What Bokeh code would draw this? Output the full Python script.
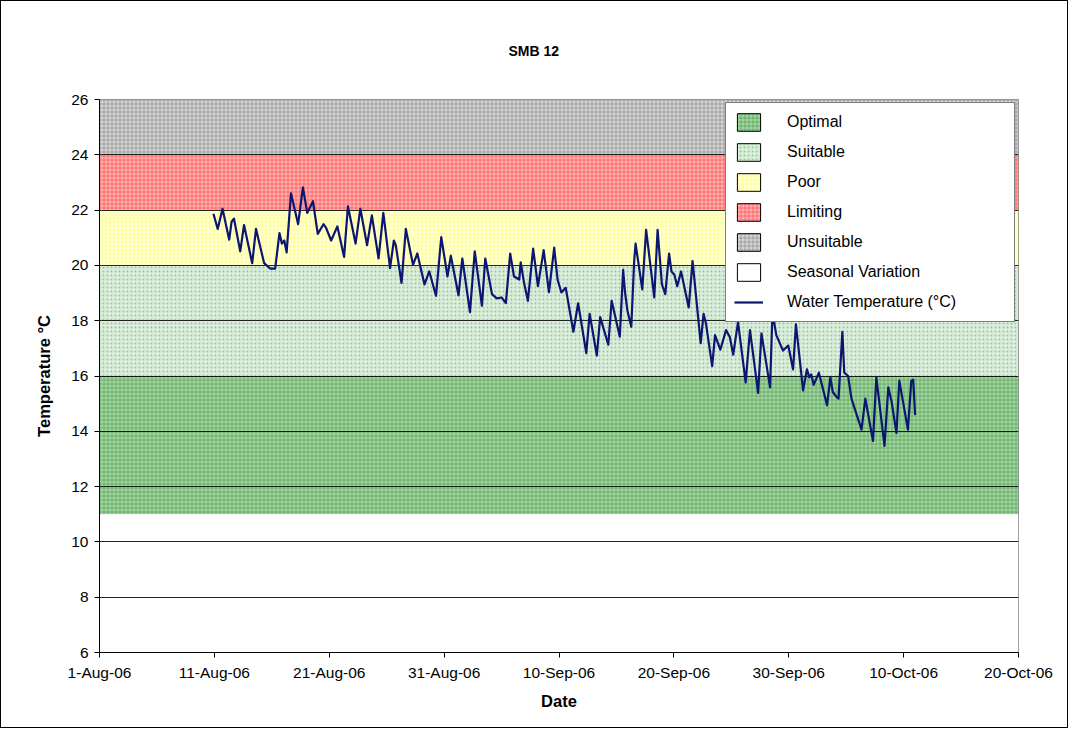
import numpy as np
import pandas as pd
from bokeh.plotting import figure
from bokeh.models import (Range1d, FixedTicker, Legend, LegendItem,
                          ColumnDataSource, Title)
from bokeh.embed import file_html
from bokeh.resources import INLINE

# ---------------- data ----------------
title_text = "SMB 12"
x_label = "Date"
y_label = "Temperature °C"

x_start = "2006-08-01"
x_end = "2006-10-20"
tick_dates = ["2006-08-01", "2006-08-11", "2006-08-21", "2006-08-31",
              "2006-09-10", "2006-09-20", "2006-09-30", "2006-10-10",
              "2006-10-20"]
tick_labels = ["1-Aug-06", "11-Aug-06", "21-Aug-06", "31-Aug-06",
               "10-Sep-06", "20-Sep-06", "30-Sep-06", "10-Oct-06",
               "20-Oct-06"]
y_ticks = [6, 8, 10, 12, 14, 16, 18, 20, 22, 24, 26]

band_names = ["Optimal", "Suitable", "Poor", "Limiting", "Unsuitable",
              "Seasonal Variation"]
band_bottom = [11, 16, 20, 22, 24, 6]
band_top = [16, 20, 22, 24, 26, 11]

series_name = "Water Temperature (°C)"
times = [
    "2006-08-10 22:00", "2006-08-11 07:00", "2006-08-11 17:00", "2006-08-12 07:00",
    "2006-08-12 12:00", "2006-08-12 17:00", "2006-08-13 06:00", "2006-08-13 14:00",
    "2006-08-14 07:00", "2006-08-14 15:00", "2006-08-15 08:00", "2006-08-15 21:00",
    "2006-08-16 07:00", "2006-08-16 16:00", "2006-08-16 21:00", "2006-08-17 02:00",
    "2006-08-17 07:00", "2006-08-17 16:00", "2006-08-18 07:00", "2006-08-18 17:00",
    "2006-08-19 02:00", "2006-08-19 14:00", "2006-08-20 00:00", "2006-08-20 12:00",
    "2006-08-20 17:00", "2006-08-21 04:00", "2006-08-21 17:00", "2006-08-22 07:00",
    "2006-08-22 15:00", "2006-08-23 07:00", "2006-08-23 17:00", "2006-08-24 07:00",
    "2006-08-24 17:00", "2006-08-25 07:00", "2006-08-25 17:00", "2006-08-26 07:00",
    "2006-08-26 15:00", "2006-08-26 19:00", "2006-08-27 07:00", "2006-08-27 16:00",
    "2006-08-28 07:00", "2006-08-28 16:00", "2006-08-29 07:00", "2006-08-29 17:00",
    "2006-08-30 07:00", "2006-08-30 18:00", "2006-08-31 00:00", "2006-08-31 07:00",
    "2006-08-31 14:00", "2006-09-01 06:00", "2006-09-01 14:00", "2006-09-02 06:00",
    "2006-09-02 16:00", "2006-09-03 07:00", "2006-09-03 14:00", "2006-09-04 04:00",
    "2006-09-04 14:00", "2006-09-05 00:00", "2006-09-05 09:00", "2006-09-05 18:00",
    "2006-09-06 02:00", "2006-09-06 13:00", "2006-09-06 16:00", "2006-09-06 23:00",
    "2006-09-07 07:00", "2006-09-07 18:00", "2006-09-08 04:00", "2006-09-08 16:00",
    "2006-09-09 03:00", "2006-09-09 14:00", "2006-09-09 21:00", "2006-09-10 05:00",
    "2006-09-10 14:00", "2006-09-11 06:00", "2006-09-11 16:00", "2006-09-12 09:00",
    "2006-09-12 16:00", "2006-09-13 07:00", "2006-09-13 14:00", "2006-09-14 07:00",
    "2006-09-14 14:00", "2006-09-15 07:00", "2006-09-15 14:00", "2006-09-15 18:00",
    "2006-09-15 23:00", "2006-09-16 07:00", "2006-09-16 13:00", "2006-09-16 16:00",
    "2006-09-17 06:00", "2006-09-17 14:00", "2006-09-18 07:00", "2006-09-18 14:00",
    "2006-09-18 23:00", "2006-09-19 06:00", "2006-09-19 14:00", "2006-09-19 19:00",
    "2006-09-20 01:00", "2006-09-20 07:00", "2006-09-20 15:00", "2006-09-21 07:00",
    "2006-09-21 15:00", "2006-09-22 08:00", "2006-09-22 14:00", "2006-09-22 19:00",
    "2006-09-23 08:00", "2006-09-23 14:00", "2006-09-24 01:00", "2006-09-24 13:00",
    "2006-09-24 21:00", "2006-09-25 04:00", "2006-09-25 14:00", "2006-09-26 06:00",
    "2006-09-26 15:00", "2006-09-27 08:00", "2006-09-27 15:00", "2006-09-28 09:00",
    "2006-09-28 14:00", "2006-09-28 22:00", "2006-09-29 12:00", "2006-09-29 23:00",
    "2006-09-30 09:00", "2006-09-30 15:00", "2006-10-01 06:00", "2006-10-01 14:00",
    "2006-10-01 19:00", "2006-10-01 23:00", "2006-10-02 04:00", "2006-10-02 15:00",
    "2006-10-03 08:00", "2006-10-03 15:00", "2006-10-03 20:00", "2006-10-04 04:00",
    "2006-10-04 08:00", "2006-10-04 16:00", "2006-10-04 20:00", "2006-10-05 04:00",
    "2006-10-05 11:00", "2006-10-06 08:00", "2006-10-06 16:00", "2006-10-07 08:00",
    "2006-10-07 15:00", "2006-10-08 08:00", "2006-10-08 16:00", "2006-10-08 23:00",
    "2006-10-09 09:00", "2006-10-09 15:00", "2006-10-10 09:00", "2006-10-10 16:00",
    "2006-10-10 20:00", "2006-10-11 00:00",
]
temps = [
    21.87, 21.32, 22.05, 20.93,
    21.58, 21.69, 20.51, 21.46,
    20.08, 21.32, 20.08, 19.88,
    19.88, 21.17, 20.79, 20.90,
    20.47, 22.61, 21.49, 22.82,
    21.90, 22.32, 21.14, 21.49,
    21.37, 20.90, 21.41, 20.31,
    22.14, 20.79, 22.05, 20.73,
    21.81, 20.25, 21.90, 19.90,
    20.90, 20.73, 19.37, 21.32,
    20.02, 20.43, 19.31, 19.78,
    18.90, 21.02, 20.37, 19.60,
    20.35, 18.92, 20.25, 18.31,
    20.51, 18.54, 20.25, 18.96,
    18.81, 18.84, 18.64, 20.43,
    19.60, 19.49, 20.11, 19.37,
    18.72, 20.61, 19.25, 20.55,
    19.03, 20.64, 19.49, 19.02,
    19.19, 17.60, 18.63, 16.83,
    18.25, 16.74, 18.13, 17.13,
    18.72, 17.42, 19.84, 19.02,
    18.36, 17.78, 20.13, 20.79,
    19.13, 21.29, 18.84, 21.29,
    19.31, 18.96, 20.43, 19.78,
    19.66, 19.25, 19.78, 18.48,
    20.16, 17.19, 18.25, 17.90,
    16.36, 17.48, 16.95, 17.66,
    17.40, 16.77, 17.95, 15.77,
    17.66, 15.39, 17.54, 15.59,
    18.30, 17.48, 16.92, 17.10,
    16.24, 17.87, 15.48, 16.24,
    15.95, 16.06, 15.68, 16.12,
    14.94, 15.95, 15.42, 15.24,
    15.18, 17.60, 16.12, 16.00,
    15.18, 14.06, 15.18, 13.65,
    15.95, 13.47, 15.59, 15.06,
    13.94, 15.83, 14.06, 15.83,
    15.87, 14.59,
]

# ---------------- styles ----------------
band_fill = ["#a2d4a2", "#d9eed9", "#ffffa0", "#ffadad", "#d4d4d4", "#ffffff"]
band_hatch = ["cross", "dot", "cross", "cross", "cross", "blank"]
band_hatch_color = ["#4a9a4a", "#88c288", "#ffffff", "#ff4444", "#858585", "#ffffff"]
band_hatch_alpha = [0.6, 0.85, 0.6, 0.6, 0.65, 0.0]
line_color = "#0b1670"
FONT = "Liberation Sans"


def ms(s):
    return int(pd.Timestamp(s).value // 10**6)


x0 = pd.Timestamp(x_start)
x1 = pd.Timestamp(x_end)

p = figure(width=1068, height=728, x_axis_type="datetime",
           x_range=Range1d(x0, x1), y_range=Range1d(6, 26),
           output_backend="svg", toolbar_location=None,
           min_border_left=98, min_border_right=51,
           min_border_top=98, min_border_bottom=77,
           background_fill_color="white", border_fill_color="white")
p.styles = {"border": "1px solid black"}

p.title = Title(text=title_text, align="left", offset=409,
                vertical_align="top",
                text_font=FONT, text_font_size="14px",
                text_font_style="bold", text_color="black", standoff=78)

# bands
n = len(band_names)
band_src = ColumnDataSource(dict(
    left=[x0] * n, right=[x1] * n,
    bottom=band_bottom, top=band_top, fill=band_fill,
    hatch=band_hatch, hcol=band_hatch_color, halpha=band_hatch_alpha,
))
br = p.quad(left="left", right="right", bottom="bottom", top="top",
            source=band_src, fill_color="fill", line_color=None,
            hatch_pattern="hatch", hatch_color="hcol", hatch_alpha="halpha",
            hatch_scale=4, hatch_weight=1)
br.level = "image"

# legend-only swatches (NaN geometry -> nothing drawn in the plot)
legend_items = []
for i, name in enumerate(band_names):
    r = p.quad(left=[np.nan], right=[np.nan], bottom=[np.nan], top=[np.nan],
               fill_color=band_fill[i], line_color="black", line_width=1,
               hatch_pattern=band_hatch[i], hatch_color=band_hatch_color[i],
               hatch_alpha=band_hatch_alpha[i], hatch_scale=4, hatch_weight=1)
    legend_items.append(LegendItem(label=name, renderers=[r]))

src = ColumnDataSource(dict(t=pd.to_datetime(times), temp=temps))
lr = p.line(x="t", y="temp", source=src, line_color=line_color,
            line_width=2.2, line_join="round")
legend_items.append(LegendItem(label=series_name, renderers=[lr]))

legend = Legend(items=legend_items, location="top_right", margin=3,
                padding=8, spacing=8, glyph_width=29, glyph_height=22,
                label_standoff=24, label_width=219, label_height=22,
                label_text_font=FONT, label_text_font_size="16px",
                label_text_color="black",
                border_line_color="black", border_line_width=1,
                background_fill_color="white", background_fill_alpha=1.0)
p.add_layout(legend)

# grid
p.xgrid.visible = False
p.ygrid.ticker = FixedTicker(ticks=y_ticks)
p.ygrid.grid_line_color = "black"
p.ygrid.grid_line_alpha = 0.85
p.ygrid.grid_line_width = 1

p.outline_line_color = "#808080"
p.outline_line_width = 1

# axes
p.xaxis.ticker = FixedTicker(ticks=[ms(d) for d in tick_dates])
p.xaxis.major_label_overrides = {ms(d): lab for d, lab in zip(tick_dates, tick_labels)}
p.yaxis.ticker = FixedTicker(ticks=y_ticks)
for ax in (p.xaxis, p.yaxis):
    ax.axis_line_color = "black"
    ax.axis_line_width = 1
    ax.major_tick_line_color = "black"
    ax.major_tick_in = 0
    ax.major_tick_out = 5
    ax.minor_tick_line_color = None
    ax.major_label_text_font = FONT
    ax.major_label_text_font_size = "15.5px"
    ax.major_label_text_color = "black"
    ax.axis_label_text_font = FONT
    ax.axis_label_text_font_size = "16.5px"
    ax.axis_label_text_font_style = "bold"
    ax.axis_label_text_color = "black"
p.xaxis.axis_label = x_label
p.yaxis.axis_label = y_label
p.xaxis.major_label_standoff = 6
p.yaxis.major_label_standoff = 6
p.xaxis.axis_label_standoff = 8
p.yaxis.axis_label_standoff = 15

open("out.html", "w").write(file_html(p, INLINE))
